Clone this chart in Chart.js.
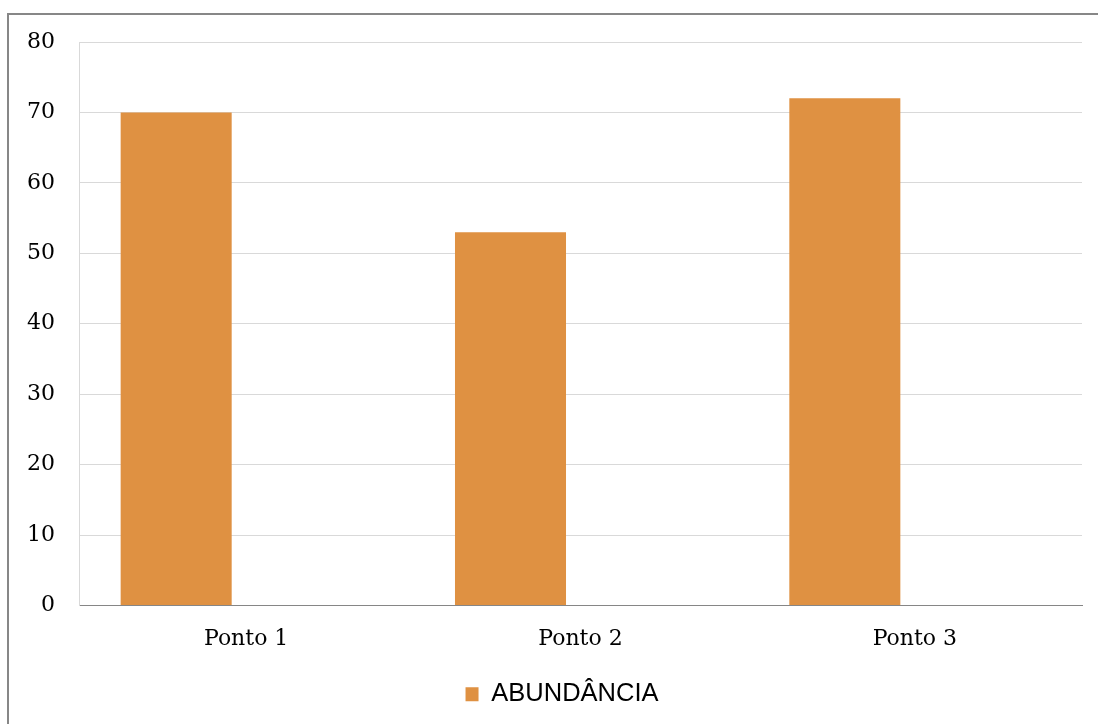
<!DOCTYPE html>
<html>
<head>
<meta charset="utf-8">
<script src="https://cdn.jsdelivr.net/npm/chart.js@4/dist/chart.umd.min.js"></script>
<style>
  html, body { margin: 0; padding: 0; background: #ffffff; width: 1098px; height: 724px; overflow: hidden; }
  #frame { position: absolute; left: 7px; top: 13px; width: 1200px; height: 800px;
           border-left: 2px solid #878787; border-top: 2px solid #878787; }
  #c { position: absolute; left: 0; top: 0; }
</style>
</head>
<body>
<div id="frame"></div>
<canvas id="c" width="1098" height="724"></canvas>
<script>
// Categories and values
const categories = ['Ponto 1', 'Ponto 2', 'Ponto 3'];
const abundancia = [70, 53, 72];
const emptySeries = [null, null, null];
const seriesName = 'ABUNDÂNCIA';
const yMin = 0, yMax = 80, yStep = 10;

const barColor = '#DF9142';
const tickFont = { family: 'DejaVu Serif', size: 22 };

// Nudge the legend so it sits centred under the plot area rather than the canvas
const legendShift = {
  id: 'legendShift',
  afterLayout(chart) {
    const lg = chart.legend;
    if (lg) { lg.left += 21; lg.right += 21; }
  }
};

new Chart(document.getElementById('c'), {
  type: 'bar',
  data: {
    labels: categories,
    datasets: [
      { label: seriesName, data: abundancia, backgroundColor: barColor, borderWidth: 0,
        categoryPercentage: 0.8375, barPercentage: 0.793 },
      { label: '', data: emptySeries, backgroundColor: 'transparent', borderWidth: 0,
        categoryPercentage: 0.8375, barPercentage: 0.793 }
    ]
  },
  plugins: [legendShift],
  options: {
    responsive: false,
    animation: false,
    devicePixelRatio: 1,
    layout: { padding: { left: 0, right: 16, top: 42, bottom: 7 } },
    plugins: {
      tooltip: { enabled: false },
      legend: {
        position: 'bottom',
        labels: {
          font: { family: 'Liberation Sans', size: 25.5 },
          color: '#000000',
          boxWidth: 13,
          boxHeight: 14,
          padding: 13,
          filter: (item) => item.datasetIndex === 0
        }
      }
    },
    scales: {
      x: {
        grid: { display: false, drawTicks: false },
        border: { display: true, color: '#868686', width: 1 },
        ticks: { font: tickFont, color: '#000000', padding: 21 },
        afterFit: (scale) => { scale.height = 63; }
      },
      y: {
        min: yMin, max: yMax,
        grid: {
          drawTicks: false,
          color: (ctx) => (ctx.tick && ctx.tick.value === 0) ? '#868686' : '#d9d9d9',
          lineWidth: 1
        },
        border: { display: true, color: '#d9d9d9', width: 1 },
        ticks: { stepSize: yStep, font: tickFont, color: '#000000', padding: 24 },
        afterFit: (scale) => { scale.width = 79; }
      }
    }
  }
});
</script>
</body>
</html>
